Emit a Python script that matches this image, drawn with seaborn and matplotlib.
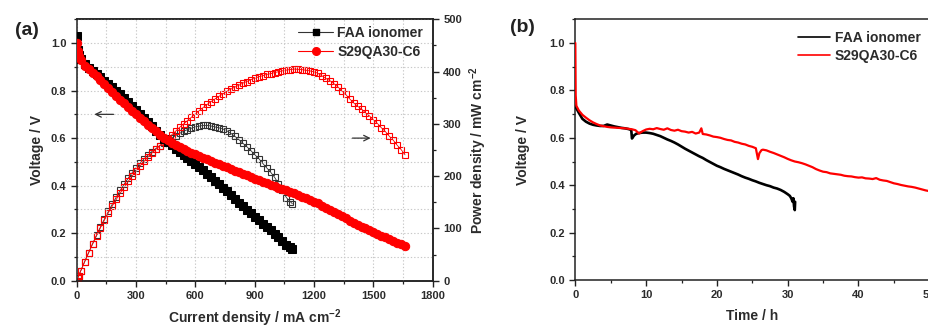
import numpy as np
import pandas as pd
import matplotlib
matplotlib.use("Agg")
import matplotlib.pyplot as plt
from matplotlib.ticker import MultipleLocator
from matplotlib.lines import Line2D
import seaborn as sns

# ---------------- data: panel (a) polarization ----------------
faa_current = [0, 5, 10, 20, 40, 60, 80, 100, 120, 140, 160, 180, 200, 220, 240, 260, 280, 300,
               320, 340, 360, 380, 400, 420, 440, 460, 480, 500, 520, 540, 560, 580, 600, 620,
               640, 660, 680, 700, 720, 740, 760, 780, 800, 820, 840, 860, 880, 900, 920, 940,
               960, 980, 1000, 1020, 1040, 1060, 1080, 1090]
faa_voltage = [1.030, 0.970, 0.950, 0.935, 0.910, 0.895, 0.882, 0.870, 0.856, 0.842, 0.828, 0.814,
               0.800, 0.785, 0.770, 0.754, 0.737, 0.720, 0.702, 0.685, 0.667, 0.650, 0.632, 0.615,
               0.598, 0.583, 0.569, 0.555, 0.542, 0.529, 0.516, 0.503, 0.490, 0.477, 0.464, 0.450,
               0.435, 0.420, 0.406, 0.392, 0.377, 0.361, 0.345, 0.329, 0.313, 0.298, 0.283, 0.268,
               0.254, 0.239, 0.225, 0.212, 0.198, 0.182, 0.166, 0.150, 0.140, 0.135]
faa_power = [0, 4.9, 9.5, 18.7, 36.4, 53.7, 70.6, 87.0, 102.7, 117.9, 132.5, 146.5, 160.0, 172.7,
             184.8, 196.0, 206.4, 216.0, 224.6, 232.9, 240.1, 247.0, 252.8, 258.3, 263.1, 268.2,
             273.1, 277.5, 281.8, 285.7, 289.0, 291.7, 294.0, 295.7, 297.0, 297.0, 295.8, 294.0,
             292.3, 290.1, 286.5, 281.6, 276.0, 269.8, 262.9, 256.3, 249.0, 241.2, 233.7, 224.7,
             216.0, 207.8, 198.0, 185.6, 172.6, 159.0, 151.2, 147.2]

s29_current = [0, 5, 10, 20, 40, 60, 80, 100, 120, 140, 160, 180, 200, 220, 240, 260, 280, 300,
               320, 340, 360, 380, 400, 420, 440, 460, 480, 500, 520, 540, 560, 580, 600, 620,
               640, 660, 680, 700, 720, 740, 760, 780, 800, 820, 840, 860, 880, 900, 920, 940,
               960, 980, 1000, 1020, 1040, 1060, 1080, 1100, 1120, 1140, 1160, 1180, 1200, 1220,
               1240, 1260, 1280, 1300, 1320, 1340, 1360, 1380, 1400, 1420, 1440, 1460, 1480, 1500,
               1520, 1540, 1560, 1580, 1600, 1620, 1640, 1660]
s29_voltage = [1.000, 0.965, 0.945, 0.930, 0.905, 0.890, 0.875, 0.860, 0.844, 0.828, 0.812, 0.795,
               0.778, 0.762, 0.746, 0.730, 0.715, 0.700, 0.686, 0.671, 0.657, 0.642, 0.628, 0.615,
               0.602, 0.591, 0.581, 0.572, 0.564, 0.555, 0.547, 0.539, 0.532, 0.525, 0.518, 0.511,
               0.504, 0.497, 0.490, 0.483, 0.477, 0.470, 0.463, 0.456, 0.450, 0.443, 0.437, 0.430,
               0.424, 0.417, 0.411, 0.404, 0.398, 0.392, 0.386, 0.380, 0.374, 0.368, 0.361, 0.354,
               0.347, 0.340, 0.333, 0.325, 0.316, 0.307, 0.299, 0.290, 0.281, 0.271, 0.262, 0.252,
               0.243, 0.235, 0.228, 0.220, 0.213, 0.205, 0.198, 0.190, 0.183, 0.175, 0.168, 0.160,
               0.153, 0.145]
s29_power = [0, 4.8, 9.5, 18.6, 36.2, 53.4, 70.0, 86.0, 101.3, 115.9, 129.9, 143.1, 155.6, 167.6,
             179.0, 189.8, 200.2, 210.0, 219.5, 228.1, 236.5, 244.0, 251.2, 258.3, 264.9, 271.9,
             278.9, 286.0, 293.3, 299.7, 306.3, 312.6, 319.2, 325.5, 331.5, 337.3, 342.7, 347.9,
             352.8, 357.4, 362.5, 366.6, 370.4, 373.9, 378.0, 381.0, 384.6, 387.0, 390.1, 392.0,
             394.6, 395.9, 398.0, 399.8, 401.4, 402.8, 403.9, 404.8, 404.3, 403.6, 402.5, 401.2,
             399.6, 396.5, 391.8, 386.8, 382.7, 377.0, 370.9, 363.1, 356.3, 347.8, 340.2, 333.7,
             328.3, 321.2, 315.2, 307.5, 301.0, 292.6, 285.5, 276.5, 268.8, 259.2, 250.9, 240.7]

# ---------------- data: panel (b) durability ----------------
faa_time = [0, 0.05, 0.5, 1.0, 1.5, 2.0, 2.5, 3.0, 3.5, 4.0, 4.5, 5.0, 5.5, 6.0, 6.5, 7.0, 7.5, 7.9,
            8.0, 8.3, 8.6, 9.0, 9.5, 10.0, 10.5, 11.0, 11.5, 12.0, 12.5, 13.0, 13.5, 14.0, 14.5,
            15.0, 15.5, 16.0, 16.5, 17.0, 17.5, 18.0, 18.5, 19.0, 19.5, 20.0, 20.5, 21.0, 21.5,
            22.0, 22.5, 23.0, 23.5, 24.0, 24.5, 25.0, 25.5, 26.0, 26.5, 27.0, 27.5, 28.0, 28.5,
            29.0, 29.5, 30.0, 30.3, 30.5, 30.7, 30.8, 30.9, 31.0, 31.05]
faa_durab = [0.735, 0.730, 0.705, 0.680, 0.668, 0.660, 0.655, 0.652, 0.650, 0.650, 0.656, 0.652,
             0.648, 0.645, 0.642, 0.640, 0.637, 0.633, 0.597, 0.610, 0.617, 0.620, 0.622, 0.622,
             0.620, 0.617, 0.612, 0.607, 0.600, 0.593, 0.587, 0.580, 0.572, 0.563, 0.554, 0.546,
             0.538, 0.530, 0.522, 0.515, 0.506, 0.498, 0.490, 0.482, 0.476, 0.469, 0.463, 0.457,
             0.451, 0.445, 0.438, 0.432, 0.427, 0.421, 0.416, 0.410, 0.405, 0.400, 0.396, 0.390,
             0.386, 0.380, 0.372, 0.362, 0.355, 0.345, 0.330, 0.345, 0.310, 0.295, 0.330]

s29_time = [0, 0.05, 0.15, 0.5, 1.0, 1.5, 2.0, 2.5, 3.0, 3.5, 4.0, 4.5, 5.0, 5.5, 6.0, 6.5, 7.0, 7.5,
            8.0, 8.5, 9.0, 9.5, 10.0, 10.5, 11.0, 11.5, 12.0, 12.5, 13.0, 13.5, 14.0, 14.5, 15.0,
            15.5, 16.0, 16.5, 17.0, 17.5, 17.8, 18.0, 18.5, 19.0, 19.5, 20.0, 20.5, 21.0, 21.5,
            22.0, 22.5, 23.0, 23.5, 24.0, 24.5, 25.0, 25.5, 25.8, 26.0, 26.3, 26.5, 27.0, 27.5,
            28.0, 28.5, 29.0, 29.5, 30.0, 30.5, 31.0, 31.5, 32.0, 32.5, 33.0, 33.5, 34.0, 34.5,
            35.0, 35.5, 36.0, 36.5, 37.0, 37.5, 38.0, 38.5, 39.0, 39.5, 40.0, 40.5, 41.0, 41.5,
            42.0, 42.5, 43.0, 43.5, 44.0, 44.5, 45.0, 45.5, 46.0, 46.5, 47.0, 47.5, 48.0, 48.5,
            49.0, 49.5, 50.0]
s29_durab = [1.000, 0.780, 0.735, 0.715, 0.697, 0.685, 0.674, 0.665, 0.658, 0.652, 0.649, 0.646,
             0.644, 0.643, 0.642, 0.641, 0.640, 0.638, 0.636, 0.632, 0.618, 0.628, 0.635, 0.638,
             0.636, 0.641, 0.637, 0.634, 0.640, 0.633, 0.630, 0.634, 0.628, 0.626, 0.622, 0.625,
             0.618, 0.622, 0.640, 0.616, 0.614, 0.610, 0.605, 0.603, 0.600, 0.595, 0.591, 0.589,
             0.583, 0.580, 0.575, 0.572, 0.566, 0.562, 0.556, 0.510, 0.535, 0.548, 0.550, 0.547,
             0.541, 0.536, 0.530, 0.524, 0.518, 0.511, 0.505, 0.500, 0.497, 0.493, 0.488, 0.482,
             0.476, 0.468, 0.462, 0.457, 0.455, 0.450, 0.448, 0.446, 0.444, 0.440, 0.438, 0.437,
             0.434, 0.432, 0.433, 0.429, 0.428, 0.426, 0.430, 0.423, 0.420, 0.418, 0.413, 0.408,
             0.405, 0.401, 0.398, 0.395, 0.393, 0.390, 0.386, 0.382, 0.378, 0.375]

series_names = ["FAA ionomer", "S29QA30-C6"]

# ---------------- style ----------------
sns.set_style("ticks")
plt.rcParams['font.family'] = ['Liberation Sans', 'DejaVu Sans']
plt.rcParams['mathtext.fontset'] = 'custom'
plt.rcParams['mathtext.bf'] = 'Liberation Sans:bold'
plt.rcParams['mathtext.rm'] = 'Liberation Sans'

TXT = '#2b2b2b'
RED = '#ff0000'

fig = plt.figure(figsize=(9.29, 3.27), dpi=100)
axA = fig.add_axes([0.0826, 0.1416, 0.3832, 0.7994])
axB = fig.add_axes([0.6193, 0.1437, 0.3810, 0.7973])

def style_axis(ax):
    for s in ax.spines.values():
        s.set_linewidth(1.1)
        s.set_color('#222222')
    ax.tick_params(which='major', direction='out', length=4, width=1.0, colors='#222222',
                   labelsize=8, labelcolor=TXT)
    ax.tick_params(which='minor', direction='out', length=2.5, width=0.9, colors='#222222')
    for lab in ax.get_xticklabels() + ax.get_yticklabels():
        lab.set_fontweight('bold')

# ---------------- panel (a) ----------------
axP = axA.twinx()
dfF = pd.DataFrame({'I': faa_current, 'V': faa_voltage, 'P': faa_power})
dfS = pd.DataFrame({'I': s29_current, 'V': s29_voltage, 'P': s29_power})

sns.lineplot(data=dfF, x='I', y='P', ax=axP, color='#333333', lw=0.6, marker='s',
             markersize=4.5, markerfacecolor='none', markeredgecolor='#333333',
             markeredgewidth=0.8, estimator=None, sort=False, zorder=2)
sns.lineplot(data=dfS, x='I', y='P', ax=axP, color=RED, lw=0.6, marker='s',
             markersize=4.5, markerfacecolor='none', markeredgecolor=RED,
             markeredgewidth=0.8, estimator=None, sort=False, zorder=3)
sns.lineplot(data=dfF, x='I', y='V', ax=axA, color='black', lw=1.5, marker='s',
             markersize=5.4, markerfacecolor='black', markeredgecolor='black',
             estimator=None, sort=False, zorder=3)
sns.lineplot(data=dfS, x='I', y='V', ax=axA, color=RED, lw=1.5, marker='o',
             markersize=6.0, markerfacecolor=RED, markeredgecolor=RED,
             estimator=None, sort=False, zorder=4)

axA.set_zorder(axP.get_zorder() + 1)
axA.patch.set_visible(False)

axA.set_xlim(0, 1800)
axA.set_ylim(0, 1.1)
axP.set_ylim(0, 500)
axA.xaxis.set_major_locator(MultipleLocator(300))
axA.xaxis.set_minor_locator(MultipleLocator(150))
axA.yaxis.set_major_locator(MultipleLocator(0.2))
axA.yaxis.set_minor_locator(MultipleLocator(0.1))
axP.yaxis.set_major_locator(MultipleLocator(100))
axP.yaxis.set_minor_locator(MultipleLocator(50))
axA.yaxis.set_major_formatter(matplotlib.ticker.FormatStrFormatter('%.1f'))
axA.grid(True, which='both', color='#c8c8c8', linestyle=(0, (1.2, 1.8)), linewidth=0.8)
axA.set_axisbelow(True)

style_axis(axA)
style_axis(axP)
axP.spines['left'].set_visible(False)

axA.set_xlabel(r'Current density / mA cm$^{\mathbf{-2}}$', fontsize=10, fontweight='bold',
               color=TXT, va='center')
axA.xaxis.set_label_coords(0.5, -0.142)
axA.set_ylabel('Voltage / V', fontsize=10, fontweight='bold', color=TXT, va='center')
axA.yaxis.set_label_coords(-0.112, 0.5)
axP.set_ylabel(r'Power density / mW cm$^{\mathbf{-2}}$', fontsize=10, fontweight='bold',
               color=TXT, rotation=90, va='center', ha='center')
axP.yaxis.set_label_coords(1.128, 0.5)

axA.annotate('', xy=(75, 0.70), xytext=(200, 0.70),
             arrowprops=dict(arrowstyle='->', color='#333333', lw=0.9))
axA.annotate('', xy=(1500, 0.60), xytext=(1380, 0.60),
             arrowprops=dict(arrowstyle='->', color='#333333', lw=0.9))

handlesA = [Line2D([], [], color='#333333', lw=0.8, marker='s', markersize=5,
                   markerfacecolor='black', markeredgecolor='black'),
            Line2D([], [], color=RED, lw=0.8, marker='o', markersize=5.5,
                   markerfacecolor=RED, markeredgecolor=RED)]
legA = fig.legend(handlesA, series_names, loc='upper left', bbox_to_anchor=(0.321, 0.921),
                  bbox_transform=fig.transFigure, frameon=False, borderpad=0,
                  borderaxespad=0, handlelength=2.5, handletextpad=0.3, labelspacing=0.36,
                  prop={'size': 10, 'weight': 'bold'})
for t in legA.get_texts():
    t.set_color(TXT)

fig.text(0.0165, 0.908, '(a)', fontsize=14, fontweight='bold', color='#222222',
         ha='left', va='center')

# ---------------- panel (b) ----------------
dfFb = pd.DataFrame({'t': faa_time, 'V': faa_durab})
dfSb = pd.DataFrame({'t': s29_time, 'V': s29_durab})
sns.lineplot(data=dfFb, x='t', y='V', ax=axB, color='black', lw=1.9,
             estimator=None, sort=False, zorder=3)
sns.lineplot(data=dfSb, x='t', y='V', ax=axB, color=RED, lw=1.6,
             estimator=None, sort=False, zorder=4)
axB.set_xlim(0, 50)
axB.set_ylim(0, 1.1)
axB.xaxis.set_major_locator(MultipleLocator(10))
axB.xaxis.set_minor_locator(MultipleLocator(5))
axB.yaxis.set_major_locator(MultipleLocator(0.2))
axB.yaxis.set_minor_locator(MultipleLocator(0.1))
axB.yaxis.set_major_formatter(matplotlib.ticker.FormatStrFormatter('%.1f'))
style_axis(axB)
axB.set_xlabel('Time / h', fontsize=10, fontweight='bold', color=TXT, va='center')
axB.xaxis.set_label_coords(0.5, -0.137)
axB.set_ylabel('Voltage / V', fontsize=10, fontweight='bold', color=TXT, va='center')
axB.yaxis.set_label_coords(-0.148, 0.5)

handlesB = [Line2D([], [], color='black', lw=1.2), Line2D([], [], color=RED, lw=1.2)]
legB = fig.legend(handlesB, series_names, loc='upper left', bbox_to_anchor=(0.859, 0.906),
                  bbox_transform=fig.transFigure, frameon=False, borderpad=0,
                  borderaxespad=0, handlelength=2.3, handletextpad=0.35, labelspacing=0.29,
                  prop={'size': 10, 'weight': 'bold'})
for t in legB.get_texts():
    t.set_color(TXT)

fig.text(0.549, 0.915, '(b)', fontsize=14, fontweight='bold', color='#222222',
         ha='left', va='center')

fig.savefig('out.png', dpi=100)
